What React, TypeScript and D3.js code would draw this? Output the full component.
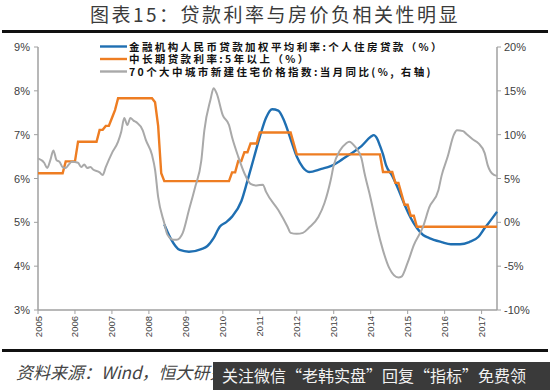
import React from "react";
import * as d3 from "d3";

// month index 0 = first category on the axis; ticks every 12 months
const yearLabels = ["2005","2006","2007","2008","2009","2010","2011","2012","2013","2014","2015","2016","2017"];
const leftTicks = [3, 4, 5, 6, 7, 8, 9];
const rightTicks = [-10, -5, 0, 5, 10, 15, 20];

// 5y+ loan rate: change points [month, value]
const orangeMonths = [0, 9, 13, 20, 22, 24, 25, 26, 38, 39, 40, 41, 63, 65, 67, 69, 72, 83, 84, 112, 116, 118, 119, 121, 123];
const orangeValues = [6.12, 6.39, 6.84, 7.11, 7.20, 7.38, 7.56, 7.83, 7.74, 7.20, 6.12, 5.94, 6.14, 6.40, 6.60, 6.80, 7.05, 6.80, 6.55, 6.15, 5.90, 5.65, 5.40, 5.15, 4.90];
const lastMonth = 149;

// weighted avg personal housing loan rate
const blueMonths = [41, 43, 46, 49, 53, 55, 57, 59, 61, 63, 66, 68, 70, 72, 74, 76, 78, 80, 82, 84, 86, 88, 92, 95, 98, 101, 105, 108, 109, 110, 111, 112, 113, 115, 117, 119, 121, 123, 125, 127, 131, 134, 137, 140, 143, 145, 147, 149];
const blueValues = [4.95, 4.64, 4.37, 4.33, 4.39, 4.46, 4.64, 4.90, 5.00, 5.13, 5.48, 5.95, 6.45, 6.95, 7.38, 7.58, 7.55, 7.30, 6.90, 6.50, 6.25, 6.15, 6.22, 6.28, 6.40, 6.54, 6.74, 6.95, 6.99, 6.92, 6.75, 6.55, 6.30, 6.06, 5.75, 5.40, 5.10, 4.87, 4.71, 4.64, 4.55, 4.50, 4.50, 4.55, 4.67, 4.87, 5.05, 5.24];

// 70-city new home price yoy (right axis)
const grayMonths = [0, 2, 3, 4, 5, 6, 7, 8, 9, 10, 11, 13, 14, 15, 16, 17, 18, 20, 21, 22, 24, 26, 27, 28, 29, 30, 31, 32, 34, 35, 37, 38, 39, 41, 42, 44, 45, 46, 47, 49, 51, 53, 54, 56, 57, 58, 60, 62, 63, 65, 67, 69, 71, 73, 74, 78, 81, 82, 84, 86, 88, 91, 93, 95, 96, 98, 100, 101, 103, 105, 106, 108, 109, 110, 112, 114, 117, 118, 120, 122, 125, 127, 130, 131, 133, 135, 136, 138, 139, 141, 143, 145, 146, 148, 149];
const grayValues = [7.3, 6.8, 6.2, 7.1, 8.2, 7.1, 6.9, 6.3, 6.2, 6.6, 6.9, 6.8, 6.3, 6.6, 6.2, 6.3, 6.0, 5.7, 5.4, 6.3, 7.9, 9.2, 10.3, 11.9, 11.1, 11.9, 11.6, 11.4, 10.5, 9.4, 7.7, 6.0, 2.9, -0.1, -1.4, -2.0, -2.0, -1.8, -1.2, 1.4, 4.0, 7.0, 10.5, 14.0, 15.3, 14.7, 12.2, 11.1, 9.7, 7.5, 5.6, 4.4, 4.2, 4.3, 3.5, 1.4, -0.5, -1.2, -1.3, -1.2, -0.6, 0.6, 2.2, 4.8, 6.5, 8.2, 9.0, 9.2, 8.6, 7.3, 5.6, 2.7, 1.1, -0.5, -3.2, -5.2, -6.3, -6.2, -4.6, -2.6, -0.5, 1.7, 3.7, 5.3, 7.5, 10.0, 10.5, 10.4, 10.1, 9.5, 9.0, 7.9, 6.5, 5.4, 5.3];

const legendItems = [
  { label: "金融机构人民币贷款加权平均利率:个人住房贷款（%）", color: "#1f6fb2" },
  { label: "中长期贷款利率:5年以上（%）", color: "#ee7d22" },
  { label: "70个大中城市新建住宅价格指数:当月同比(%, 右轴)", color: "#a9a9a9" },
];

export default function App() {
  const W = 550, H = 390;
  const left = 38, right = 497, top = 47, bottom = 310;
  const x = d3.scaleLinear().domain([0, lastMonth]).range([left, right]);
  const yL = d3.scaleLinear().domain([3, 9]).range([bottom, top]);
  const yR = d3.scaleLinear().domain([-10, 20]).range([bottom, top]);

  // orange: build line points from change points (flat until month before change)
  const orangePts: [number, number][] = [];
  orangeMonths.forEach((m, i) => {
    if (i > 0) orangePts.push([m - 1, orangeValues[i - 1]]);
    orangePts.push([m, orangeValues[i]]);
  });
  orangePts.push([lastMonth, orangeValues[orangeValues.length - 1]]);

  const lineL = d3.line<[number, number]>().x(d => x(d[0])).y(d => yL(d[1]));
  const smoothL = d3.line<[number, number]>().x(d => x(d[0])).y(d => yL(d[1])).curve(d3.curveMonotoneX);
  const smoothR = d3.line<[number, number]>().x(d => x(d[0])).y(d => yR(d[1])).curve(d3.curveMonotoneX);

  const bluePts = blueMonths.map((m, i) => [m, blueValues[i]] as [number, number]);
  const grayPts = grayMonths.map((m, i) => [m, grayValues[i]] as [number, number]);

  const axisColor = "#a0a0a0";
  const tickFont = "'Liberation Sans', Arial, sans-serif";
  const cjk = "'Noto Sans CJK SC', sans-serif";

  return (
    <svg width={W} height={H} style={{ position: "absolute", left: 0, top: 0, background: "#fff" }}>
      <rect x={0} y={0} width={W} height={H} fill="#fff" />
      <text x={W / 2} y={22} textAnchor="middle" fontFamily={cjk} fontSize={19} fill="#3a3a3a" letterSpacing={2.5}>
        图表15：贷款利率与房价负相关性明显
      </text>
      <rect x={2} y={30} width={546} height={3} fill="#111" />

      {/* axes */}
      <line x1={left} x2={left} y1={top} y2={bottom} stroke={axisColor} strokeWidth={1.5} />
      <line x1={right} x2={right} y1={top} y2={bottom} stroke={axisColor} strokeWidth={1.5} />
      <line x1={left} x2={right} y1={bottom} y2={bottom} stroke={axisColor} strokeWidth={1.5} />
      {leftTicks.map(t => (
        <g key={"l" + t}>
          <line x1={left - 4} x2={left} y1={yL(t)} y2={yL(t)} stroke={axisColor} />
          <text x={left - 8} y={yL(t) + 4} textAnchor="end" fontFamily={tickFont} fontSize={11} fill="#404040">{t}%</text>
        </g>
      ))}
      {rightTicks.map(t => (
        <g key={"r" + t}>
          <line x1={right} x2={right + 4} y1={yR(t)} y2={yR(t)} stroke={axisColor} />
          <text x={right + 7} y={yR(t) + 4} textAnchor="start" fontFamily={tickFont} fontSize={11} fill="#404040">{t}%</text>
        </g>
      ))}
      {yearLabels.map((lab, i) => {
        const xx = x(i * 12);
        return (
          <g key={lab}>
            <line x1={xx} x2={xx} y1={bottom} y2={bottom + 4} stroke={axisColor} />
            <text transform={`translate(${xx + 3.5},${bottom + 6}) rotate(-90)`} textAnchor="end" fontFamily={tickFont} fontSize={9.5} fill="#404040">{lab}</text>
          </g>
        );
      })}

      {/* series */}
      <path d={smoothL(bluePts) || ""} fill="none" stroke="#1f6fb2" strokeWidth={2.4} />
      <path d={lineL(orangePts) || ""} fill="none" stroke="#ee7d22" strokeWidth={2.4} />
      <path d={smoothR(grayPts) || ""} fill="none" stroke="#a9a9a9" strokeWidth={2} />

      {/* legend */}
      {legendItems.map((it, i) => (
        <g key={it.label}>
          <line x1={100} x2={127} y1={46.5 + i * 12.5} y2={46.5 + i * 12.5} stroke={it.color} strokeWidth={2.4} />
          <text x={129} y={50.5 + i * 12.5} fontFamily={cjk} fontWeight={700} fontSize={10.5} letterSpacing={2.4} fill="#111">{it.label}</text>
        </g>
      ))}

      {/* footer */}
      <rect x={2} y={349} width={546} height={3} fill="#111" />
      <text x={16} y={379} fontFamily={cjk} fontStyle="italic" fontSize={17} fill="#444">资料来源：Wind，恒大研究院</text>
      <rect x={213} y={362} width={337} height={28} fill="#3a3a3a" />
      <text x={222} y={382} fontFamily={cjk} fontSize={16} fill="#f2f2f2">关注微信“老韩实盘”回复“指标”免费领</text>
    </svg>
  );
}
